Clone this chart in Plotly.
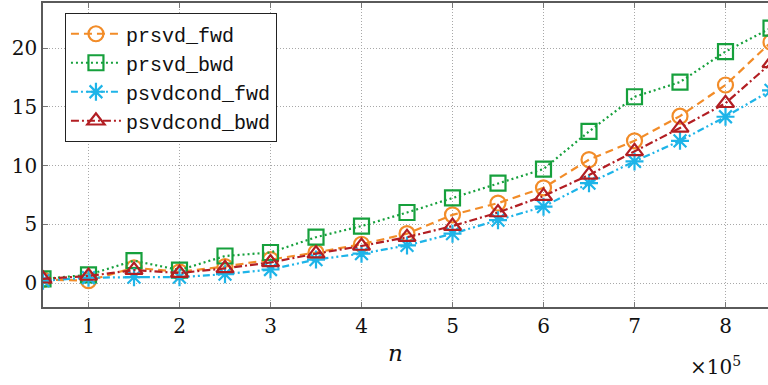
import plotly.graph_objects as go

n_vals = [0.5, 1.0, 1.5, 2.0, 2.5, 3.0, 3.5, 4.0, 4.5, 5.0, 5.5, 6.0, 6.5, 7.0, 7.5, 8.0, 8.5]
prsvd_fwd = [0.3, 0.2, 1.3, 0.95, 1.4, 2.0, 2.6, 3.3, 4.2, 5.8, 6.8, 8.1, 10.5, 12.1, 14.2, 16.85, 20.5]
prsvd_bwd = [0.35, 0.7, 1.9, 1.1, 2.3, 2.6, 3.9, 4.85, 6.0, 7.25, 8.5, 9.7, 12.9, 15.85, 17.1, 19.7, 21.7]
psvdcond_fwd = [0.2, 0.45, 0.5, 0.5, 0.75, 1.15, 2.0, 2.5, 3.2, 4.2, 5.35, 6.5, 8.5, 10.35, 12.1, 14.15, 16.4]
psvdcond_bwd = [0.35, 0.6, 1.1, 0.85, 1.25, 1.75, 2.5, 3.15, 3.9, 4.85, 6.0, 7.4, 9.2, 11.2, 13.2, 15.3, 18.7]

xtick_vals = [1, 2, 3, 4, 5, 6, 7, 8]
xtick_text = ["1", "2", "3", "4", "5", "6", "7", "8"]
ytick_vals = [0, 5, 10, 15, 20]
ytick_text = ["0", "5", "10", "15", "20"]

SERIF = "DejaVu Serif"
MONO = "Liberation Mono"

series = [
    ("prsvd_fwd", prsvd_fwd, "#F28C28", "8px,5px", "circle-open"),
    ("prsvd_bwd", prsvd_bwd, "#16A03C", "2px,3px", "square-open"),
    ("psvdcond_fwd", psvdcond_fwd, "#1EB4E8", "7px,3px,2px,3px,2px,3px", "asterisk-open"),
    ("psvdcond_bwd", psvdcond_bwd, "#B21E23", "8px,3px,2px,3px", "triangle-up-open"),
]

fig = go.Figure()
for name, vals, color, dash, sym in series:
    fig.add_trace(go.Scatter(
        x=n_vals, y=vals, name=name, mode="lines+markers",
        line=dict(color=color, width=2.2, dash=dash),
        marker=dict(symbol=sym, size=15, color=color, line=dict(width=2.2, color=color)),
    ))

fig.update_layout(
    template="none",
    width=768, height=385,
    margin=dict(l=43, r=0, t=3, b=78),
    paper_bgcolor="white", plot_bgcolor="white",
    font=dict(family=SERIF, size=20, color="#111111"),
    legend=dict(x=0.03, y=0.967, xanchor="left", yanchor="top",
                bgcolor="white", bordercolor="#222222", borderwidth=1.2,
                font=dict(family=MONO, size=20, color="#111111"),
                tracegroupgap=0, itemwidth=50),
    showlegend=True,
)

fig.update_xaxes(range=[0.5, 8.467], tickvals=xtick_vals, ticktext=xtick_text, mirror="ticks")
fig.update_yaxes(range=[-2.04, 23.83], tickvals=ytick_vals, ticktext=ytick_text, mirror=False)
fig.update_xaxes(
    showline=True, linecolor="#5a5a5a", linewidth=1.6,
    ticks="inside", ticklen=5, tickcolor="#777777", tickwidth=1,
    showgrid=True, gridcolor="#a8a8a8", griddash="1px,2px", gridwidth=1.2,
    zeroline=False, tickfont_family=SERIF, tickfont_size=20, tickfont_color="#111111",
)
fig.update_yaxes(
    showline=True, linecolor="#5a5a5a", linewidth=1.6,
    ticks="inside", ticklen=5, tickcolor="#777777", tickwidth=1,
    showgrid=True, gridcolor="#a8a8a8", griddash="1px,2px", gridwidth=1.2,
    zeroline=False, tickfont_family=SERIF, tickfont_size=20, tickfont_color="#111111",
)

fig.add_annotation(text="<i>n</i>", xref="paper", yref="paper",
                   x=(395 - 43) / 725, y=-(353 - 307) / 304, showarrow=False,
                   font=dict(family=SERIF, size=23, color="#111111"),
                   xanchor="center", yanchor="middle")
fig.add_annotation(text="×10<sup>5</sup>", xref="paper", yref="paper",
                   x=(715 - 43) / 725, y=-(366 - 307) / 304, showarrow=False,
                   font=dict(family=SERIF, size=20, color="#111111"),
                   xanchor="center", yanchor="middle")

fig.write_html("out.html")
